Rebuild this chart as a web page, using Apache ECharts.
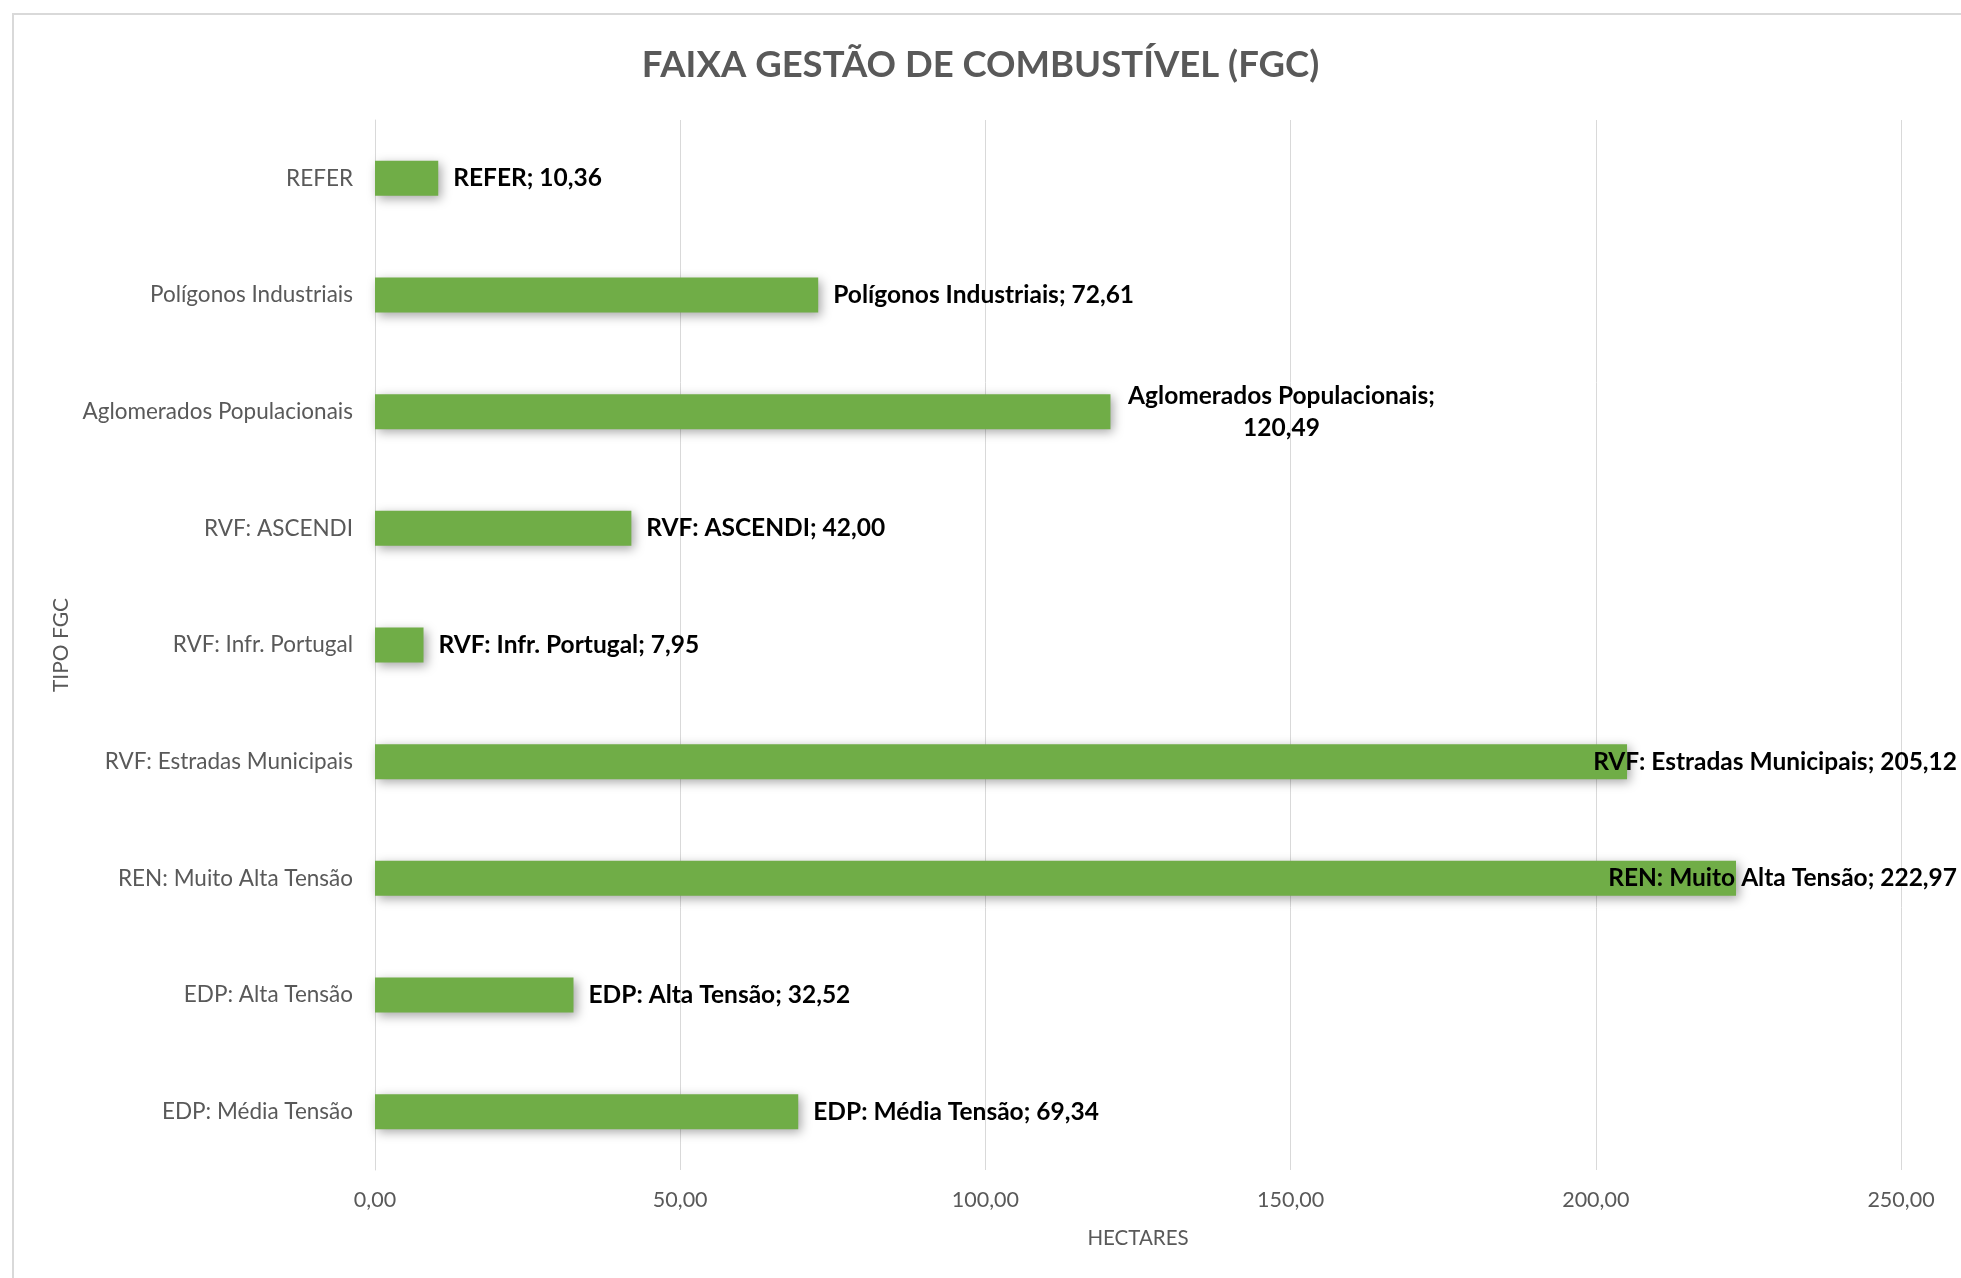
<!DOCTYPE html>
<html>
<head>
<meta charset="utf-8">
<script src="https://cdn.jsdelivr.net/npm/echarts@6/dist/echarts.min.js"></script>
<style>
html,body{margin:0;padding:0;background:#fff;}
#chart{width:1961px;height:1278px;}
</style>
</head>
<body>
<div id="chart"></div>
<script>
const categories = ['REFER','Polígonos Industriais','Aglomerados Populacionais','RVF: ASCENDI','RVF: Infr. Portugal','RVF: Estradas Municipais','REN: Muito Alta Tensão','EDP: Alta Tensão','EDP: Média Tensão'];
const values = [10.36, 72.61, 120.49, 42.00, 7.95, 205.12, 222.97, 32.52, 69.34];
const xTicks = {min: 0, max: 250, interval: 50};
const titleText = 'FAIXA GESTÃO DE COMBUSTÍVEL (FGC)';
const xName = 'HECTARES';
const yName = 'TIPO FGC';

const W = 1961;
const fmt = v => v.toFixed(2).replace('.', ',');
const FONT = 'Lato';

const chart = echarts.init(document.getElementById('chart'));
chart.setOption({
  backgroundColor: '#fff',
  animation: false,
  title: {
    text: titleText, left: 'center', top: 42,
    textStyle: {fontFamily: FONT, fontWeight: 'bold', fontSize: 36.5, color: '#595959'}
  },
  graphic: [{
    type: 'rect', shape: {x: 13, y: 14, width: 1980, height: 1300},
    style: {fill: 'none', stroke: '#d9d9d9', lineWidth: 2}, silent: true, z: -1
  }],
  grid: {left: 375, right: 60, top: 120, bottom: 108},
  xAxis: {
    type: 'value', min: xTicks.min, max: xTicks.max, interval: xTicks.interval,
    name: xName, nameLocation: 'middle', nameGap: 58,
    nameTextStyle: {fontFamily: FONT, fontSize: 20.5, color: '#595959'},
    axisLabel: {formatter: v => fmt(v), fontFamily: FONT, fontSize: 21.5, color: '#595959', margin: 19},
    axisLine: {show: false}, axisTick: {show: false},
    splitLine: {lineStyle: {color: '#d9d9d9', width: 1}}
  },
  yAxis: {
    type: 'category', data: categories, inverse: true,
    name: yName, nameLocation: 'middle', nameGap: 302, nameRotate: 90,
    nameTextStyle: {fontFamily: FONT, fontSize: 21, color: '#595959'},
    axisLabel: {fontFamily: FONT, fontSize: 22.5, color: '#595959', margin: 22},
    axisLine: {show: true, lineStyle: {color: '#d9d9d9', width: 1}},
    axisTick: {show: false}
  },
  series: [{
    type: 'bar', data: values, barWidth: 35,
    itemStyle: {color: '#70AD47', shadowColor: 'rgba(0,0,0,0.35)', shadowBlur: 10, shadowOffsetX: 3, shadowOffsetY: 3},
    label: {
      show: true, position: 'right', distance: 15,
      fontFamily: FONT, fontWeight: 'bold', fontSize: 24.5, color: '#000',
      formatter: p => {
        if (p.name === 'Aglomerados Populacionais') {
          return '{c|' + p.name + ';}\n{c|' + fmt(p.value) + '}';
        }
        return p.name + '; ' + fmt(p.value);
      },
      rich: {c: {width: 312, align: 'center', fontFamily: FONT, fontWeight: 'bold', fontSize: 24.5, color: '#000', lineHeight: 32}}
    },
    labelLayout: p => {
      const r = p.labelRect;
      if (r.x + r.width > W - 4) return {dx: (W - 4) - (r.x + r.width)};
      return {};
    }
  }]
});
</script>
</body>
</html>
